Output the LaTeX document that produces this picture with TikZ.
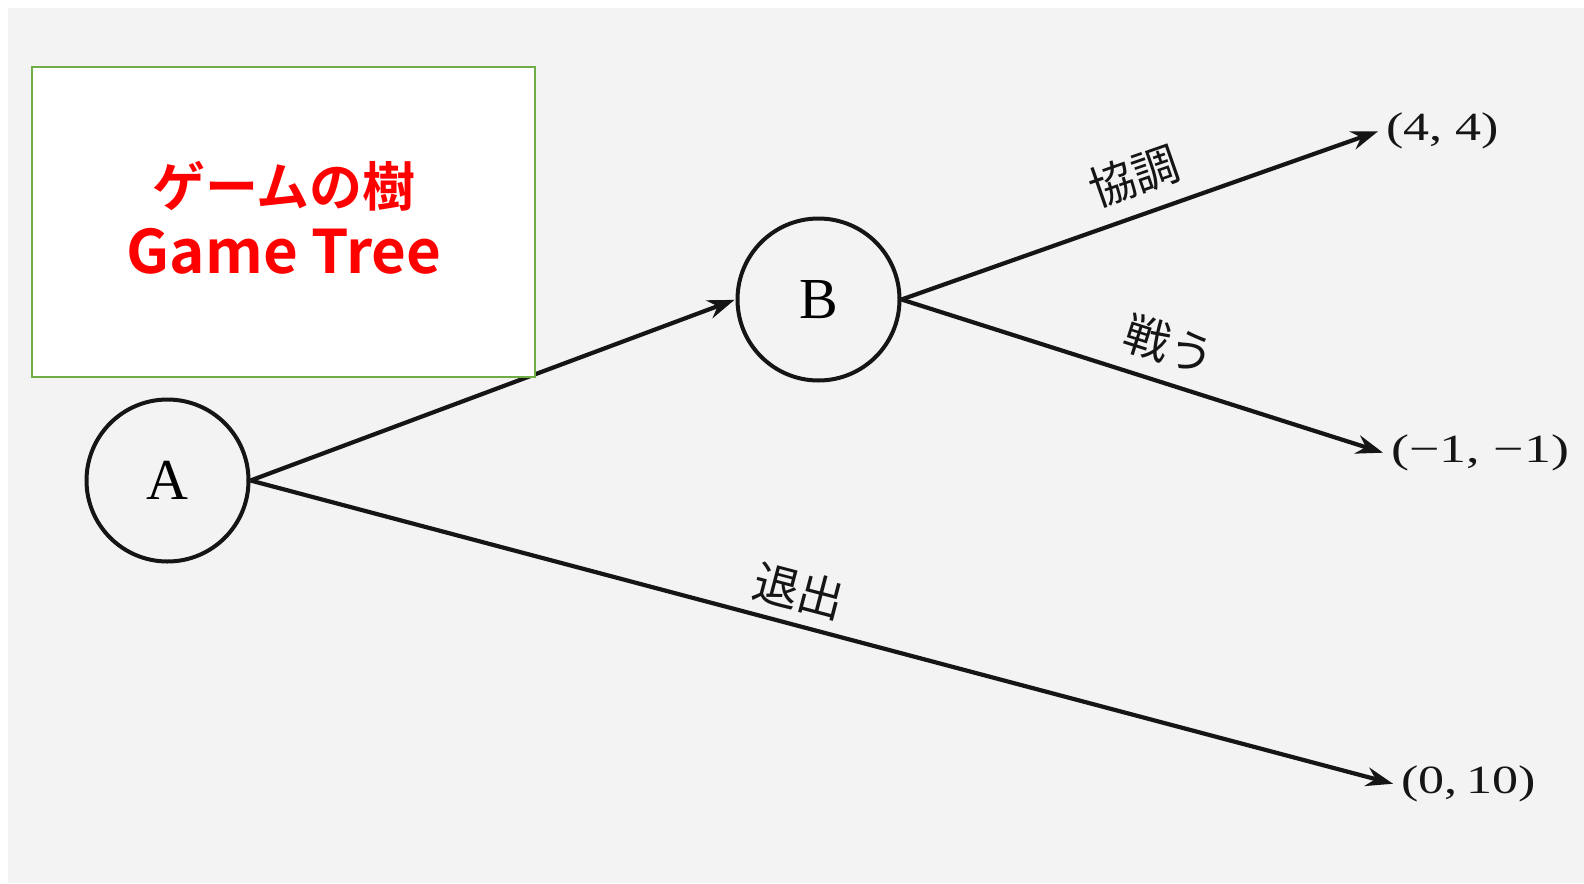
\documentclass[tikz,border=0pt]{standalone}
\usepackage{fontspec}
\newfontfamily\jpfont{Noto Sans CJK JP}
\newfontfamily\jpbold{Noto Sans CJK JP Bold}
\newfontfamily\serifnum{Liberation Serif}
\usetikzlibrary{arrows.meta}
\definecolor{bggrey}{HTML}{F3F3F3}
\definecolor{boxgreen}{HTML}{70AD47}
\definecolor{titlered}{HTML}{FF0000}
\definecolor{ink}{HTML}{151515}
\tikzset{
  player/.style={circle, draw=ink, line width=4pt, minimum size=162pt, inner sep=0pt, font=\serifnum\fontsize{58}{62}\selectfont},
  payoff/.style={anchor=west, inner xsep=7pt, inner ysep=3pt, text=ink, font=\serifnum\fontsize{40}{44}\selectfont},
  move/.style={-{Stealth[length=27pt,width=19pt,inset=9pt]}, line width=4.2pt, draw=ink, shorten >=1pt},
  movelabel/.style={text=ink, inner sep=0pt, font=\jpfont\fontsize{46}{50}\selectfont},
  titlebox/.style={draw=boxgreen, line width=2.5pt, fill=white}
}
\begin{document}
\begin{tikzpicture}[x=1pt,y=-1pt]
\useasboundingbox (0,0) rectangle (1584,883);
\fill[white] (0,0) rectangle (1584,883);
\fill[bggrey] (8,8) rectangle (1584,883);
% players
\node[player] (A) at (167.5,480.5) {A};
\node[player] (B) at (818.5,299.5) {B};
% payoffs
\node[payoff] (p1) at (1379,131) {\scalebox{1.3}[1]{(4,\ 4)}};
\node[payoff] (p2) at (1384,453) {\scalebox{1.35}[1]{(−1,\ −1)}};
\node[payoff] (p3) at (1394,784) {\scalebox{1.3}[1]{(0,\,10)}};
% moves
\draw[move] (A.east) -- (B.west);
\draw[move] (B.east) -- (p1.west);
\draw[move] (B.east) -- (p2.west);
\draw[move] (A.east) -- (p3.west);
% move labels
\node[movelabel, rotate=19.2] (l1) at (1134,176) {協調};
\node[movelabel, rotate=-17.6] (l2) at (1170,345) {戦う};
\node[movelabel, rotate=-14.7] (l3) at (799,591) {退出};
% title box
\node[titlebox, minimum width=503pt, minimum height=310pt, inner sep=0pt] (tb) at (283.5,222) {};
\node[text=titlered, font=\jpbold\fontsize{53}{56}\selectfont, inner sep=0pt] (t1) at (284,186) {ゲームの樹};
\node[text=titlered, font=\jpbold\fontsize{60}{64}\selectfont, inner sep=0pt] (t2) at (284,251) {Game Tree};
\end{tikzpicture}
\end{document}
